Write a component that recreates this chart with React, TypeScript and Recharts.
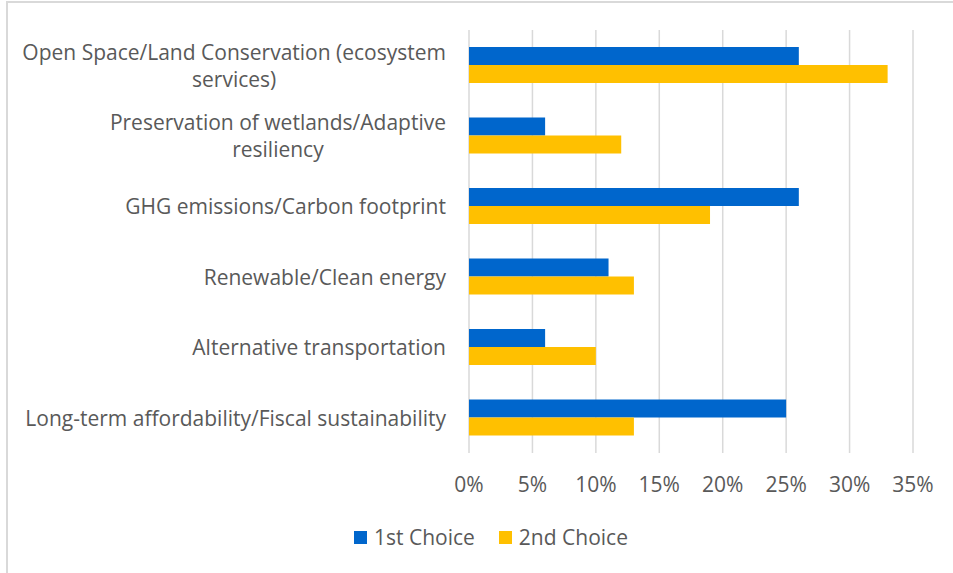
import React from 'react';
import { BarChart, Bar, XAxis, YAxis, CartesianGrid, Legend } from 'recharts';

const CATEGORY_LINES: string[][] = [
  ['Open Space/Land Conservation (ecosystem', 'services)'],
  ['Preservation of wetlands/Adaptive', 'resiliency'],
  ['GHG emissions/Carbon footprint'],
  ['Renewable/Clean energy'],
  ['Alternative transportation'],
  ['Long-term affordability/Fiscal sustainability'],
];
const categories = CATEGORY_LINES.map((l) => l.join(' '));
const firstChoice = [0.26, 0.06, 0.26, 0.11, 0.06, 0.25];
const secondChoice = [0.33, 0.12, 0.19, 0.13, 0.1, 0.13];
const xTicks = [0, 0.05, 0.1, 0.15, 0.2, 0.25, 0.3, 0.35];
const SERIES = [
  { key: 'first', name: '1st Choice', color: '#0066CC' },
  { key: 'second', name: '2nd Choice', color: '#FFC000' },
];

const data = categories.map((c, i) => ({
  category: c,
  first: firstChoice[i],
  second: secondChoice[i],
}));

const FONT = '"Open Sans", sans-serif';
const FS = 21;
const TEXT = '#595959';

let ctx: CanvasRenderingContext2D | null = null;
function measure(s: string): number {
  if (!ctx) {
    const c = document.createElement('canvas');
    ctx = c.getContext('2d');
  }
  if (!ctx) return s.length * FS * 0.5;
  ctx.font = `${FS}px "Open Sans"`;
  return ctx.measureText(s).width;
}

const YTick = (props: any) => {
  const { x, y, payload } = props;
  const idx = categories.indexOf(payload.value);
  const lines = idx >= 0 ? CATEGORY_LINES[idx] : [String(payload.value)];
  const right = x - 23;
  const lh = 27;
  if (lines.length === 1) {
    return (
      <text x={right} y={y} textAnchor="end" dominantBaseline="central" fill={TEXT} fontSize={FS} fontFamily={FONT}>
        {lines[0]}
      </text>
    );
  }
  const w = Math.max(...lines.map(measure));
  const cx = right - w / 2;
  const start = y - ((lines.length - 1) * lh) / 2;
  return (
    <g>
      {lines.map((l, i) => (
        <text key={i} x={cx} y={start + i * lh} textAnchor="middle" dominantBaseline="central" fill={TEXT} fontSize={FS} fontFamily={FONT}>
          {l}
        </text>
      ))}
    </g>
  );
};

const XTick = (props: any) => {
  const { x, y, payload } = props;
  return (
    <text x={x} y={y + 31} textAnchor="middle" dominantBaseline="central" fill={TEXT} fontSize={FS} fontFamily={FONT}>
      {`${Math.round(payload.value * 100)}%`}
    </text>
  );
};

const LegendContent = () => (
  <div style={{ display: 'flex', alignItems: 'center', paddingLeft: 354, fontFamily: FONT, fontSize: FS, color: TEXT, height: 26, lineHeight: '26px' }}>
    {SERIES.map((s, i) => (
      <div key={s.key} style={{ display: 'flex', alignItems: 'center', marginRight: i === 0 ? 24 : 0 }}>
        <span style={{ display: 'inline-block', width: 13, height: 13, background: s.color, marginRight: 7 }} />
        <span>{s.name}</span>
      </div>
    ))}
  </div>
);

export default function App() {
  return (
    <div style={{ position: 'absolute', left: 0, top: 0, width: 953, height: 573, background: '#fff', overflow: 'hidden' }}>
      <div style={{ position: 'absolute', left: 6, top: 1, width: 1000, height: 700, border: '2px solid #d9d9d9', boxSizing: 'border-box' }} />
      <div style={{ position: 'absolute', left: 0, top: 0 }}>
        <BarChart
          width={953}
          height={573}
          data={data}
          layout="vertical"
          margin={{ top: 30, right: 40, bottom: 0, left: 0 }}
          barSize={18}
          barGap={0}
        >
          <CartesianGrid horizontal={false} stroke="#d9d9d9" strokeWidth={1.5} />
          <XAxis
            type="number"
            domain={[0, 0.35]}
            ticks={xTicks}
            axisLine={false}
            tickLine={false}
            tickSize={0}
            tickMargin={0}
            height={94}
            tick={<XTick />}
            interval={0}
          />
          <YAxis
            type="category"
            dataKey="category"
            width={469}
            axisLine={false}
            tickLine={false}
            tickSize={0}
            tickMargin={0}
            tick={<YTick />}
            interval={0}
          />
          <Legend content={<LegendContent />} wrapperStyle={{ left: 0, top: 524, width: 953 }} />
          {SERIES.map((s) => (
            <Bar key={s.key} dataKey={s.key} name={s.name} fill={s.color} isAnimationActive={false} />
          ))}
        </BarChart>
      </div>
    </div>
  );
}
